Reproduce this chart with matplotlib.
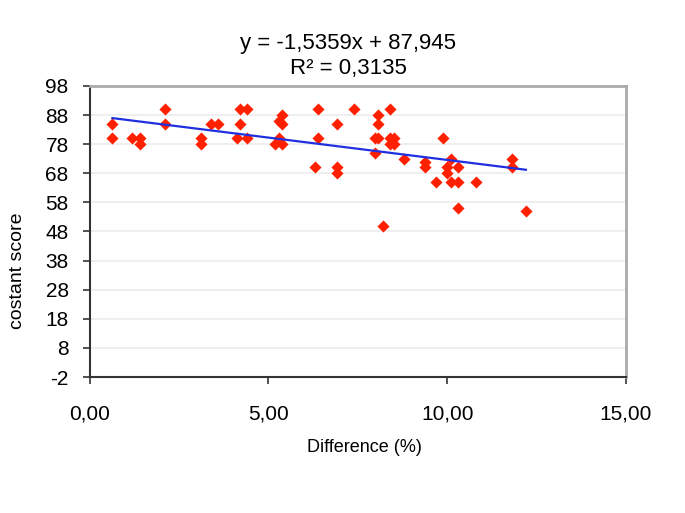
import matplotlib.pyplot as plt
from matplotlib.ticker import FuncFormatter

plt.rcParams['font.family'] = ['Liberation Sans', 'DejaVu Sans']
plt.rcParams['axes.unicode_minus'] = False

# Difference (%) vs costant score
diff = [0.64, 0.64, 1.18, 1.41, 1.41, 2.11, 2.11, 3.11, 3.11, 3.39, 3.60,
        4.21, 4.41, 4.21, 4.12, 4.41,
        5.37, 5.31, 5.37, 5.31, 5.19, 5.37,
        6.40, 6.40, 6.30, 6.91, 6.91, 6.91, 7.39,
        8.07, 8.07, 7.98, 8.07, 7.98, 8.40, 8.40, 8.51, 8.40, 8.51, 8.79,
        9.38, 9.38, 9.87, 9.69, 10.10, 9.99, 9.99, 10.10, 10.31, 10.31, 10.31,
        10.81, 11.80, 11.80, 12.20, 8.20]
score = [85, 80, 80, 80, 78, 90, 85, 80, 78, 85, 85,
         90, 90, 85, 80, 80,
         88, 86, 85, 80, 78, 78,
         90, 80, 70, 85, 70, 68, 90,
         88, 85, 80, 80, 75, 90, 80, 80, 78, 78, 73,
         72, 70, 80, 65, 73, 70, 68, 65, 65, 70, 56,
         65, 73, 70, 55, 50]

# linear trendline as printed on the chart
slope = -1.5359
intercept = 87.945
equation = "y = -1,5359x + 87,945"
r2_text = "R² = 0,3135"

y_ticks = list(range(-2, 99, 10))
x_ticks = [0, 5, 10, 15]

fig = plt.figure(figsize=(6.85, 5.13), dpi=100)
ax = fig.add_axes([0.1307, 0.2651, 0.7832, 0.5673])

ax.scatter(diff, score, marker='D', s=38, color='#ff2000', zorder=3, linewidths=0)

x0, x1 = min(diff), max(diff)
ax.plot([x0, x1], [slope * x0 + intercept, slope * x1 + intercept],
        color='#2030e0', lw=1.6, zorder=4)

ax.set_xlim(0, 15)
ax.set_ylim(-2, 98)
ax.set_xticks(x_ticks)
ax.set_yticks(y_ticks)
ax.xaxis.set_major_formatter(FuncFormatter(lambda v, p: f"{v:.2f}".replace('.', ',')))
ax.tick_params(axis='both', labelsize=15, length=5, width=1.2, color='#333333')
ax.tick_params(axis='x', pad=15)
ax.tick_params(axis='y', pad=10)

ax.grid(axis='y', color='#ececec', lw=1.2)
ax.set_axisbelow(True)
for s in ['left', 'bottom']:
    ax.spines[s].set_color('#333333')
    ax.spines[s].set_linewidth(1.5)
for s in ['top', 'right']:
    ax.spines[s].set_color('#aaaaaa')
    ax.spines[s].set_linewidth(2)

fig.text(0.508, 0.915, equation, ha='center', va='center', fontsize=16)
fig.text(0.508, 0.867, r2_text, ha='center', va='center', fontsize=16)
fig.text(0.532, 0.127, "Difference (%)", ha='center', va='center', fontsize=13)
fig.text(0.026, 0.472, "costant score", ha='center', va='center', rotation=90, fontsize=14)

plt.savefig('out.png', dpi=100)
